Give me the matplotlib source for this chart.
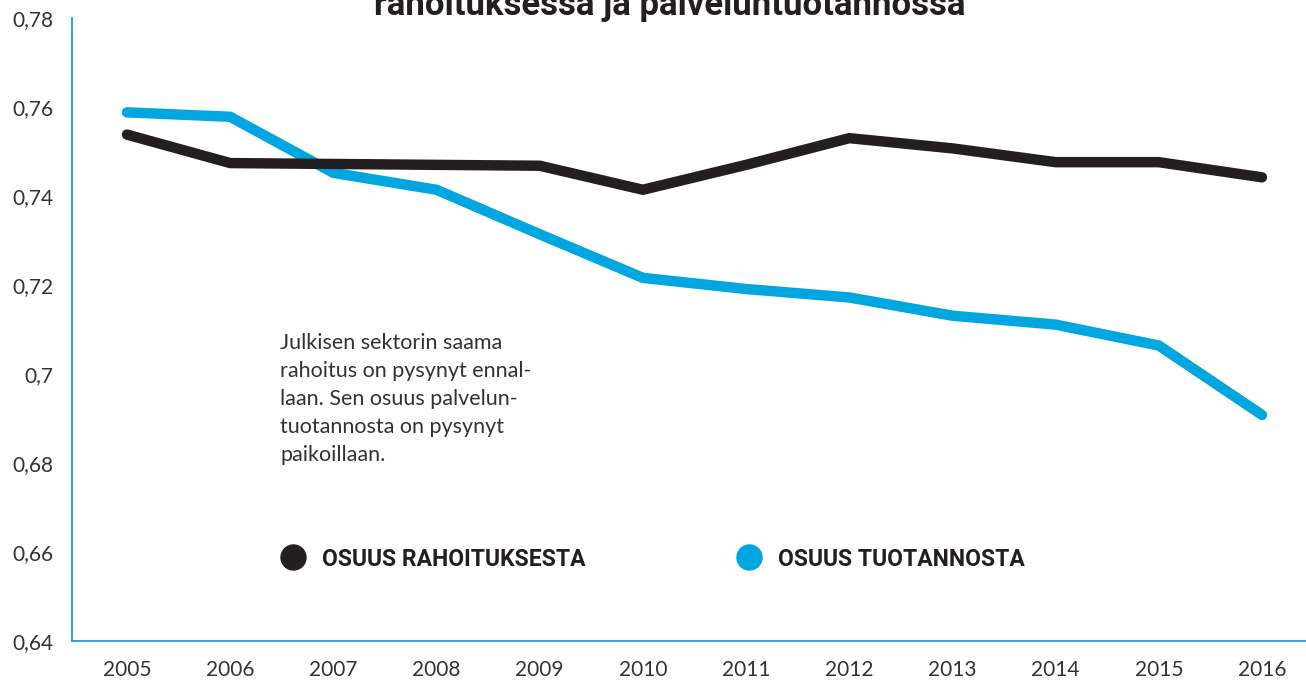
import matplotlib
matplotlib.use("Agg")
import matplotlib.pyplot as plt
from matplotlib.lines import Line2D

years = [2005, 2006, 2007, 2008, 2009, 2010, 2011, 2012, 2013, 2014, 2015, 2016]
osuus_rahoituksesta = [0.7538, 0.7474, 0.7472, 0.7470, 0.7468, 0.7414, 0.7470, 0.7530, 0.7507, 0.7476, 0.7476, 0.7442]
osuus_tuotannosta = [0.7588, 0.7578, 0.7452, 0.7414, 0.7314, 0.7216, 0.7191, 0.7172, 0.7131, 0.7111, 0.7064, 0.6908]
y_ticks = [0.64, 0.66, 0.68, 0.70, 0.72, 0.74, 0.76, 0.78]
y_tick_labels = ["0,64", "0,66", "0,68", "0,7", "0,72", "0,74", "0,76", "0,78"]
series_labels = ["OSUUS RAHOITUKSESTA", "OSUUS TUOTANNOSTA"]
title = "rahoituksessa ja palveluntuotannossa"
note = ("Julkisen sektorin saama\nrahoitus on pysynyt ennal-\nlaan. Sen osuus palvelun-\n"
        "tuotannosta on pysynyt\npaikoillaan.")

BLACK = "#231f20"
BLUE = "#00a6df"
AXIS = "#1a9fd9"
TEXT = "#333333"

plt.rcParams['font.family'] = ['Lato', 'DejaVu Sans']

fig = plt.figure(figsize=(13.06, 6.83), dpi=100)
ax = fig.add_axes([72/1306, 1-641/683, 1-72/1306, (641-18)/683])

ax.plot(years, osuus_rahoituksesta, color=BLACK, lw=7.5, solid_capstyle='round', solid_joinstyle='miter', zorder=3)
ax.plot(years, osuus_tuotannosta, color=BLUE, lw=7.5, solid_capstyle='round', solid_joinstyle='miter', zorder=2)

ax.set_xlim(2005 - 55/103.2, 2016 + 44/103.2)
ax.set_ylim(0.64, 0.78)
ax.set_yticks(y_ticks)
ax.set_yticklabels(y_tick_labels)
ax.set_xticks(years)
ax.set_xticklabels([str(y) for y in years])
ax.tick_params(axis='y', length=0, pad=13.5, labelsize=15, labelcolor=TEXT)
ax.tick_params(axis='x', length=0, pad=13.5, labelsize=15, labelcolor=TEXT)
for s in ['top', 'right']:
    ax.spines[s].set_visible(False)
for s in ['left', 'bottom']:
    ax.spines[s].set_color(AXIS)
    ax.spines[s].set_linewidth(1.3)

ax.text((280-72)/1234, (641-333)/623, note, transform=ax.transAxes, ha='left', va='top',
        fontsize=15.5, color=TEXT, linespacing=1.5)

h1 = Line2D([], [], ls='none', marker='o', ms=18, color=BLACK)
h2 = Line2D([], [], ls='none', marker='o', ms=18, color=BLUE)
leg_kw = dict(frameon=False, loc='center left', handlelength=0.95, handletextpad=0.8,
              borderpad=0, borderaxespad=0,
              prop={'family': ['Roboto', 'DejaVu Sans'], 'weight': 'bold', 'size': 16.5})
leg1 = ax.legend([h1], [series_labels[0]], bbox_to_anchor=((282-72)/1234, (641-559)/623), **leg_kw)
for t in leg1.get_texts():
    t.set_color(BLACK)
ax.add_artist(leg1)
leg2 = ax.legend([h2], [series_labels[1]], bbox_to_anchor=((738-72)/1234, (641-559)/623), **leg_kw)
for t in leg2.get_texts():
    t.set_color(BLACK)

fig.text(670/1306, 1-15/683, title, ha='center', va='baseline', fontsize=25,
         fontweight='bold', color=BLACK, family=['Roboto', 'DejaVu Sans'])

fig.savefig("out.png", dpi=100)
